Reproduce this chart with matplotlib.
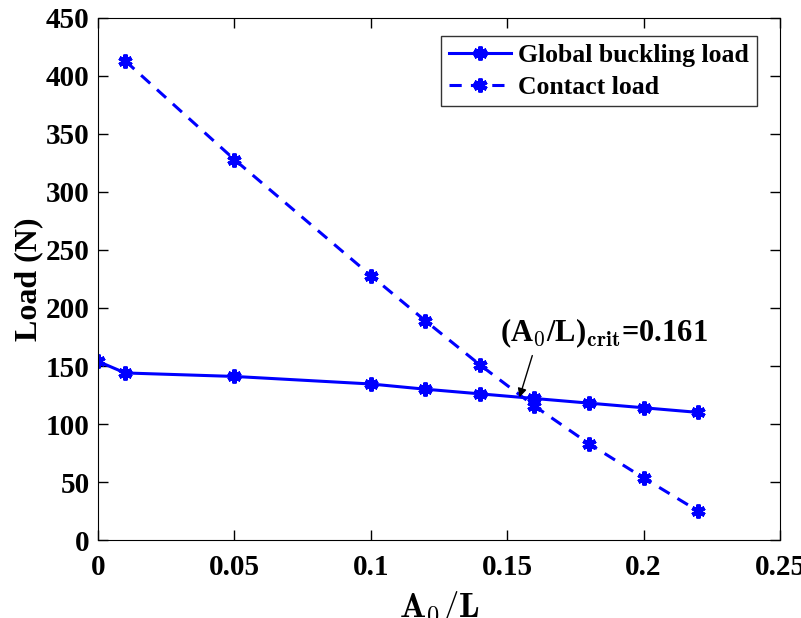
import numpy as np
import matplotlib.pyplot as plt

plt.rcParams['font.family'] = ['Liberation Serif', 'DejaVu Serif']
plt.rcParams['font.weight'] = 'bold'
plt.rcParams['mathtext.fontset'] = 'cm'

# data
ratio_global = [0, 0.01, 0.05, 0.1, 0.12, 0.14, 0.16, 0.18, 0.2, 0.22]
global_load = [154, 144, 141, 134.5, 130, 126, 122, 118, 114, 110]
ratio_contact = [0.01, 0.05, 0.1, 0.12, 0.14, 0.16, 0.18, 0.2, 0.22]
contact_load = [413, 328, 228, 189, 151, 115.5, 83, 53.5, 25]

fig = plt.figure(figsize=(8.01, 6.18), dpi=100)
ax = fig.add_axes([0.1223, 0.1262, 0.8515, 0.8447])

ax.plot(ratio_global, global_load, color='blue', linewidth=2.2, marker=(6, 2, 0),
        markersize=10, markeredgewidth=3, label='Global buckling load')
ax.plot(ratio_contact, contact_load, color='blue', linewidth=2.2, linestyle=(0, (4, 3)),
        marker=(6, 2, 0), markersize=10, markeredgewidth=3, label='Contact load')

# annotation: text and arrow drawn separately
ax.text(0.1474, 171, r'(A$_\mathbf{0}$/L)$_\mathbf{crit}$=0.161', fontsize=22,
        fontweight='bold', ha='left', va='baseline')
ax.annotate('', xy=(0.1545, 123), xytext=(0.1592, 159),
            arrowprops=dict(arrowstyle='-|>', color='black', lw=1, shrinkA=0, shrinkB=0,
                            mutation_scale=13))

ax.set_xlim(0, 0.25)
ax.set_ylim(0, 450)
ax.set_xticks([0, 0.05, 0.1, 0.15, 0.2, 0.25])
ax.set_xticklabels(['0', '0.05', '0.1', '0.15', '0.2', '0.25'])
ax.set_yticks(np.arange(0, 451, 50))
ax.tick_params(direction='in', top=True, right=True, labelsize=21, length=7, width=1)
ax.tick_params(axis='x', pad=10)
ax.tick_params(axis='y', pad=6)
for lab in ax.get_xticklabels() + ax.get_yticklabels():
    lab.set_fontweight('bold')

ax.set_xlabel(r'$\mathbf{A_0/L}$', fontsize=25, labelpad=6)
ax.set_ylabel('Load (N)', fontsize=23, fontweight='bold', labelpad=2)

leg = ax.legend(loc='upper right', bbox_to_anchor=(0.966, 0.9655), fontsize=18.5,
                frameon=True, fancybox=False, edgecolor='black', borderpad=0.3,
                handlelength=2.4, handletextpad=0.3, labelspacing=0.35, borderaxespad=0)
leg.get_frame().set_linewidth(1)

fig.savefig('out.png', dpi=100)
